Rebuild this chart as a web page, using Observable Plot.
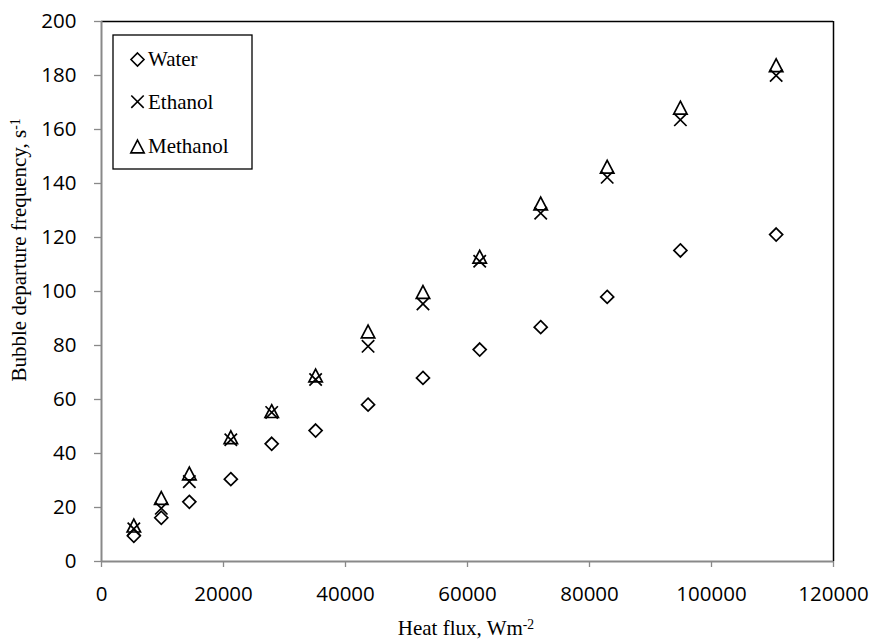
<!DOCTYPE html>
<html><head><meta charset="utf-8">
<script src="https://cdn.jsdelivr.net/npm/d3@7"></script>
<script src="https://cdn.jsdelivr.net/npm/@observablehq/plot@0.6"></script>
<style>body{margin:0;background:#fff}</style>
</head><body><div id="chart"></div>
<script>
const heatFlux = [5300, 9800, 14400, 21200, 27900, 35100, 43700, 52700, 62000, 72000, 82900, 94900, 110600];
const water    = [9.5, 16.2, 22.1, 30.5, 43.6, 48.5, 58.1, 68.0, 78.5, 86.8, 98.0, 115.2, 121.1];
const ethanol  = [12.1, 19.7, 29.6, 45.1, 55.2, 67.4, 79.7, 95.4, 111.2, 129.0, 142.3, 163.6, 180.0];
const methanol = [13.3, 23.5, 32.6, 46.0, 55.7, 68.9, 85.2, 99.8, 112.9, 132.6, 146.2, 168.1, 183.8];
const seriesNames = ["Water", "Ethanol", "Methanol"];
const xTicks = [0, 20000, 40000, 60000, 80000, 100000, 120000];
const yTicks = [0, 20, 40, 60, 80, 100, 120, 140, 160, 180, 200];
const xTitle = ["Heat flux, Wm", "-2"];
const yTitle = ["Bubble departure frequency, s", "-1"];

const symbols = {
  Water: {draw(c) { const r = 6.5; c.moveTo(0, -r); c.lineTo(r, 0); c.lineTo(0, r); c.lineTo(-r, 0); c.closePath(); }},
  Ethanol: {draw(c) { const r = 6.2; c.moveTo(-r, -r); c.lineTo(r, r); c.moveTo(-r, r); c.lineTo(r, -r); }},
  Methanol: {draw(c) { const h = 6.4, w = 6.7; c.moveTo(0, -h); c.lineTo(w, h); c.lineTo(-w, h); c.closePath(); }}
};
const seriesValues = {Water: water, Ethanol: ethanol, Methanol: methanol};
const rows = s => heatFlux.map((x, i) => ({x, y: seriesValues[s][i], series: s}));

const W = 872, H = 640;
const mL = 101, mR = 39, mT = 21, mB = 79;
const axisGray = "#898989";
const tickFont = "'Open Sans', sans-serif";
const serif = "'Liberation Serif', 'Times New Roman', serif";

const chart = Plot.plot({
  width: W, height: H,
  marginLeft: mL, marginRight: mR, marginTop: mT, marginBottom: mB,
  style: {background: "#fff", fontFamily: tickFont, fontSize: "20.5px", color: "black"},
  x: {domain: [0, 120000]},
  y: {domain: [0, 200]},
  marks: [
    Plot.axisY({ticks: yTicks, tickSize: 7, tickPadding: 18, stroke: axisGray, strokeWidth: 1.3, fill: "black", tickFormat: d => String(d), label: null, fontSize: 20.5}),
    Plot.axisX({ticks: xTicks, tickSize: 6, tickPadding: 19, stroke: axisGray, strokeWidth: 1.3, fill: "black", tickFormat: d => String(d), label: null, fontSize: 20.5}),
    Plot.ruleY([200], {stroke: "black", strokeWidth: 1.5}),
    Plot.ruleX([120000], {stroke: "black", strokeWidth: 1.5}),
    Plot.ruleX([0], {stroke: axisGray, strokeWidth: 2}),
    Plot.ruleY([0], {stroke: axisGray, strokeWidth: 2}),
    ...seriesNames.map(s => Plot.dot(rows(s), {x: "x", y: "y", symbol: symbols[s], r: 6, fill: "none", stroke: "black", strokeWidth: 1.7}))
  ]
});

const svg = d3.select(chart);
// axis titles with superscripts
const xt = svg.append("text").attr("x", 466).attr("y", 635).attr("text-anchor", "middle")
  .attr("font-family", serif).attr("font-size", 21).attr("fill", "black");
xt.append("tspan").text(xTitle[0]);
xt.append("tspan").attr("dy", "-0.45em").attr("font-size", "0.65em").text(xTitle[1]);

const yt = svg.append("text").attr("transform", "translate(26,250) rotate(-90)").attr("text-anchor", "middle")
  .attr("font-family", serif).attr("font-size", 21).attr("fill", "black");
yt.append("tspan").text(yTitle[0]);
yt.append("tspan").attr("dy", "-0.45em").attr("font-size", "0.65em").text(yTitle[1]);

// legend
const lg = svg.append("g");
lg.append("rect").attr("x", 113).attr("y", 35).attr("width", 139).attr("height", 134)
  .attr("fill", "white").attr("stroke", "black").attr("stroke-width", 1.3);
const legendY = [59.5, 101.7, 146.5];
seriesNames.forEach((s, i) => {
  const p = d3.path();
  symbols[s].draw(p);
  lg.append("path").attr("d", p.toString()).attr("transform", `translate(137.5,${legendY[i]})`)
    .attr("fill", "none").attr("stroke", "black").attr("stroke-width", 1.6);
  lg.append("text").attr("x", 148).attr("y", legendY[i]).attr("dy", "0.33em")
    .attr("text-anchor", "start").style("text-anchor", "start")
    .attr("font-family", serif).attr("font-size", 21).attr("fill", "black").text(s);
});

document.getElementById("chart").appendChild(chart);
</script>
</body></html>
